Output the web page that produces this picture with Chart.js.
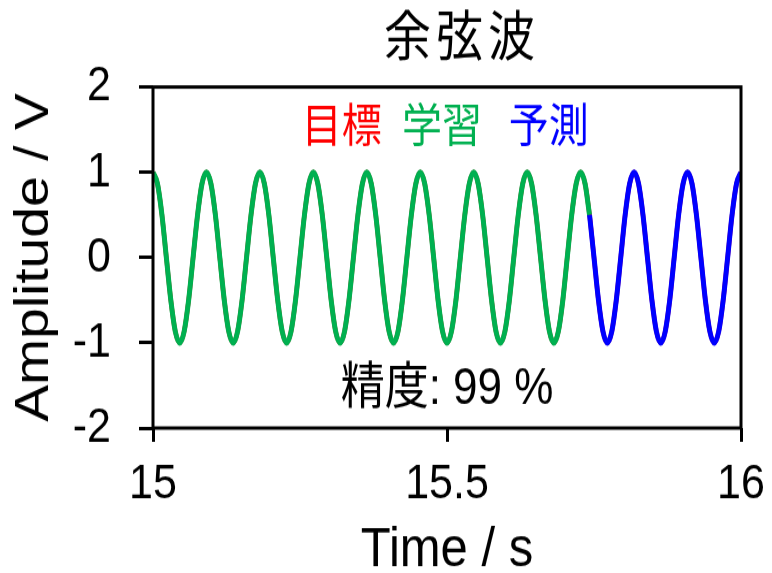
<!DOCTYPE html>
<html>
<head>
<meta charset="utf-8">
<title>余弦波</title>
<script src="https://cdn.jsdelivr.net/npm/chart.js@4/dist/chart.umd.min.js"></script>
<style>
  html { overflow: hidden; background: #fff; }
  body { margin: 0; padding: 0; width: 772px; height: 573px; }
  /* the drawing is laid out on a 772x498 canvas and shown stretched to 772x573 */
  #wrap { width: 772px; height: 498px; transform: scaleY(1.150602); transform-origin: 0 0; }
  canvas { display: block; }
</style>
</head>
<body>
<div id="wrap"><canvas id="c" width="772" height="498"></canvas></div>
<script>
// sample times (s), 12 samples per period of the 11 Hz wave
const timeS = [
  15.0000,15.0076,15.0152,15.0227,15.0303,15.0379,15.0455,15.0530,15.0606,15.0682,15.0758,15.0833,
  15.0909,15.0985,15.1061,15.1136,15.1212,15.1288,15.1364,15.1439,15.1515,15.1591,15.1667,15.1742,
  15.1818,15.1894,15.1970,15.2045,15.2121,15.2197,15.2273,15.2348,15.2424,15.2500,15.2576,15.2652,
  15.2727,15.2803,15.2879,15.2955,15.3030,15.3106,15.3182,15.3258,15.3333,15.3409,15.3485,15.3561,
  15.3636,15.3712,15.3788,15.3864,15.3939,15.4015,15.4091,15.4167,15.4242,15.4318,15.4394,15.4470,
  15.4545,15.4621,15.4697,15.4773,15.4848,15.4924,15.5000,15.5076,15.5152,15.5227,15.5303,15.5379,
  15.5455,15.5530,15.5606,15.5682,15.5758,15.5833,15.5909,15.5985,15.6061,15.6136,15.6212,15.6288,
  15.6364,15.6439,15.6515,15.6591,15.6667,15.6742,15.6818,15.6894,15.6970,15.7045,15.7121,15.7197,
  15.7273,15.7348,15.7424,15.7500,15.7576,15.7652,15.7727,15.7803,15.7879,15.7955,15.8030,15.8106,
  15.8182,15.8258,15.8333,15.8409,15.8485,15.8561,15.8636,15.8712,15.8788,15.8864,15.8939,15.9015,
  15.9091,15.9167,15.9242,15.9318,15.9394,15.9470,15.9545,15.9621,15.9697,15.9773,15.9848,15.9924,
  16.0000
];

// amplitude (V) of the target signal at each sample time
const targetV = [
  1,0.866,0.5,0,-0.5,-0.866,-1,-0.866,-0.5,0,0.5,0.866,
  1,0.866,0.5,0,-0.5,-0.866,-1,-0.866,-0.5,0,0.5,0.866,
  1,0.866,0.5,0,-0.5,-0.866,-1,-0.866,-0.5,0,0.5,0.866,
  1,0.866,0.5,0,-0.5,-0.866,-1,-0.866,-0.5,0,0.5,0.866,
  1,0.866,0.5,0,-0.5,-0.866,-1,-0.866,-0.5,0,0.5,0.866,
  1,0.866,0.5,0,-0.5,-0.866,-1,-0.866,-0.5,0,0.5,0.866,
  1,0.866,0.5,0,-0.5,-0.866,-1,-0.866,-0.5,0,0.5,0.866,
  1,0.866,0.5,0,-0.5,-0.866,-1,-0.866,-0.5,0,0.5,0.866,
  1,0.866,0.5,0,-0.5,-0.866,-1,-0.866,-0.5,0,0.5,0.866,
  1,0.866,0.5,0,-0.5,-0.866,-1,-0.866,-0.5,0,0.5,0.866,
  1,0.866,0.5,0,-0.5,-0.866,-1,-0.866,-0.5,0,0.5,0.866,
  1
];

// index of the last sample of the learning segment; prediction takes over from here
const learnEnd = 98;

const xTickVals = [15, 15.5, 16];
const yTickVals = [-2, -1, 0, 1, 2];

const titleText = '余弦波';
const seriesNames = ['目標', '学習', '予測'];
const seriesColors = ['#ff0000', '#00b050', '#0000ff'];
const accuracyPct = 99;

const toPoints = (from, to) => timeS.slice(from, to).map((t, i) => ({ x: t, y: targetV[from + i] }));

// frame, in-plot legend, accuracy note and title
const annotate = {
  id: 'annotate',
  afterDatasetsDraw(chart) {
    const { ctx, chartArea: a, scales: { x, y } } = chart;
    ctx.save();
    ctx.strokeStyle = '#000';
    ctx.lineWidth = 3;
    ctx.strokeRect(a.left, a.top, a.right - a.left, a.bottom - a.top);

    ctx.textAlign = 'center';
    ctx.textBaseline = 'middle';
    ctx.font = '40px "Noto Sans CJK JP"';
    const legendAt = [15.321, 15.4915, 15.673];
    seriesNames.forEach((name, i) => {
      ctx.fillStyle = seriesColors[i];
      ctx.fillText(name, x.getPixelForValue(legendAt[i]), y.getPixelForValue(1.572));
    });

    ctx.fillStyle = '#000';
    ctx.font = '44px "Liberation Sans", "Noto Sans CJK JP"';
    ctx.fillText('精度: ' + accuracyPct + ' %', x.getPixelForValue(15.5), y.getPixelForValue(-1.549));

    ctx.font = '47px "Noto Sans CJK JP"';
    ctx.letterSpacing = '5px';
    ctx.fillText(titleText, (a.left + a.right) / 2 + 15, a.top - 45);
    ctx.restore();
  }
};

const tickFont = { family: '"Liberation Sans", Arial, sans-serif', size: 43 };
const tickGrid = (len) => ({
  display: true, drawOnChartArea: false, drawTicks: true,
  tickLength: len, tickWidth: 3, tickColor: '#000'
});

new Chart(document.getElementById('c'), {
  type: 'line',
  data: {
    datasets: [
      { label: seriesNames[0], data: toPoints(0, timeS.length), borderColor: seriesColors[0], borderWidth: 4.5, order: 3 },
      { label: seriesNames[1], data: toPoints(0, learnEnd + 1), borderColor: seriesColors[1], borderWidth: 5, order: 2 },
      { label: seriesNames[2], data: toPoints(learnEnd, timeS.length), borderColor: seriesColors[2], borderWidth: 5, order: 1 }
    ]
  },
  options: {
    responsive: false,
    maintainAspectRatio: false,
    animation: false,
    devicePixelRatio: 1,
    layout: { padding: { top: 75.6, right: 31, bottom: 0, left: 0 } },
    elements: {
      point: { radius: 0 },
      line: { cubicInterpolationMode: 'monotone', fill: false }
    },
    plugins: {
      legend: { display: false },
      tooltip: { enabled: false },
      title: { display: false }
    },
    scales: {
      x: {
        type: 'linear', min: 15, max: 16,
        afterBuildTicks: (s) => { s.ticks = xTickVals.map(v => ({ value: v })); },
        afterFit: (s) => { s.height = 126; s.paddingLeft = 0; s.paddingRight = 0; },
        ticks: {
          color: '#000', font: tickFont, padding: 11.5, maxRotation: 0, autoSkip: false,
          callback: (v) => String(v)
        },
        grid: tickGrid(12),
        border: { display: false },
        title: {
          display: true, text: 'Time / s', color: '#000',
          font: { family: '"Liberation Sans", Arial, sans-serif', size: 49 },
          padding: { top: 0, bottom: -9.4 }
        }
      },
      y: {
        type: 'linear', min: -2, max: 2,
        afterBuildTicks: (s) => { s.ticks = yTickVals.map(v => ({ value: v })); },
        afterFit: (s) => { s.width = 153; },
        ticks: { color: '#000', font: tickFont, padding: 28, callback: (v) => String(v) },
        grid: tickGrid(14),
        border: { display: false },
        title: {
          display: true, text: 'Amplitude / V', color: '#000',
          font: { family: '"Liberation Sans", Arial, sans-serif', size: 48 },
          padding: { top: 5.6, bottom: 0 }
        }
      }
    }
  },
  plugins: [annotate]
});
</script>
</body>
</html>
